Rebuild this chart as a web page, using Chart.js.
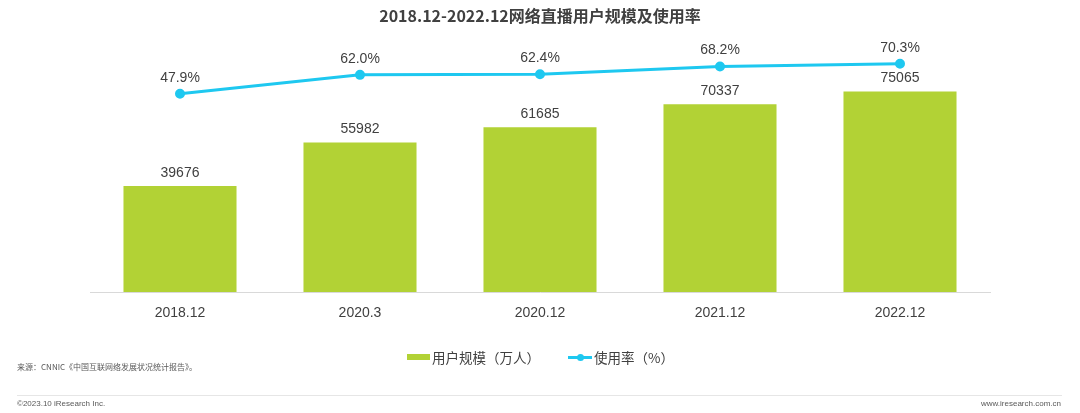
<!DOCTYPE html>
<html>
<head>
<meta charset="utf-8">
<script src="https://cdn.jsdelivr.net/npm/chart.js@4.4.0/dist/chart.umd.min.js"></script>
<style>
  html, body { margin: 0; padding: 0; background: #fff; }
  body { width: 1080px; height: 413px; position: relative; overflow: hidden;
         font-family: "Noto Sans CJK SC", "Liberation Sans", Arial, sans-serif; }
  #wrap { position: absolute; left: 0; top: 0; width: 1080px; height: 413px; }
  .title { position: absolute; top: 3px; left: 0; width: 1080px; text-align: center;
           font-size: 16px; font-weight: bold; color: #404040; }
  .legend { position: absolute; top: 347px; left: 407px; height: 20px; display: flex;
            align-items: center; font-size: 13.5px; color: #404040; }
  .legend .box { width: 23px; height: 6px; background: #b2d235; margin-right: 2px; }
  .legend .ln { position: relative; width: 24px; height: 3px; background: #1ec8f0;
                margin-left: 28px; margin-right: 2px; }
  .legend .ln::after { content: ""; position: absolute; left: 9px; top: -2px; width: 7px;
                       height: 7px; border-radius: 50%; background: #1ec8f0; }
  .src { position: absolute; left: 17px; top: 361px; font-size: 8px; color: #595959; }
  .sep { position: absolute; left: 17px; top: 395px; width: 1045px; height: 1px; background: #e6e6e6; }
  .copy { position: absolute; left: 17px; top: 399px; font-size: 8px; color: #595959;
          font-family: "Liberation Sans", Arial, sans-serif; }
  .www { position: absolute; right: 19px; top: 399px; font-size: 8px; color: #595959;
         font-family: "Liberation Sans", Arial, sans-serif; }
</style>
</head>
<body>
<div id="wrap"><canvas id="chart"></canvas></div>
<div class="title">2018.12-2022.12网络直播用户规模及使用率</div>
<div class="legend">
  <span class="box"></span><span>用户规模（万人）</span>
  <span class="ln"></span><span>使用率（%）</span>
</div>
<div class="src">来源：CNNIC《中国互联网络发展状况统计报告》。</div>
<div class="sep"></div>
<div class="copy">©2023.10 iResearch Inc.</div>
<div class="www">www.iresearch.com.cn</div>
<script>
// 数据
const periods = ['2018.12', '2020.3', '2020.12', '2021.12', '2022.12'];
const users = [39676, 55982, 61685, 70337, 75065];   // 用户规模（万人）
const usageRate = [47.9, 62.0, 62.4, 68.2, 70.3];    // 使用率（%）

// 数值标签
const valueLabels = {
    id: 'valueLabels',
    afterDatasetsDraw(chart) {
        const ctx = chart.ctx;
        ctx.save();
        ctx.font = '14px "Liberation Sans", Arial, sans-serif';
        ctx.fillStyle = '#404040';
        ctx.textAlign = 'center';
        ctx.textBaseline = 'middle';
        chart.getDatasetMeta(0).data.forEach((bar, i) => {
            ctx.fillText(String(users[i]), bar.x, bar.y - 13);
        });
        chart.getDatasetMeta(1).data.forEach((pt, i) => {
            ctx.fillText(usageRate[i].toFixed(1) + '%', pt.x, pt.y - 16);
        });
        ctx.restore();
    }
};

new Chart(document.getElementById('chart'), {
    data: {
        labels: periods,
        datasets: [
            { type: 'bar', label: '用户规模（万人）', data: users, backgroundColor: '#b2d235',
              yAxisID: 'y', barPercentage: 0.628, categoryPercentage: 1, order: 2 },
            { type: 'line', label: '使用率（%）', data: usageRate, borderColor: '#1ec8f0',
              backgroundColor: '#1ec8f0', borderWidth: 3, pointRadius: 3.5, pointHoverRadius: 3.5,
              yAxisID: 'y2', tension: 0, order: 1 }
        ]
    },
    options: {
        responsive: true,
        maintainAspectRatio: false,
        animation: false,
        layout: { padding: { left: 90, right: 90, top: 40, bottom: 0 } },
        scales: {
            x: {
                grid: { display: false },
                border: { display: true, color: '#d9d9d9', width: 1 },
                ticks: { color: '#404040', padding: 5, font: { size: 14, family: '"Liberation Sans", Arial, sans-serif' } },
                afterFit: s => { s.height = 121; }
            },
            y: { display: false, min: 0, max: 94400 },
            y2: { display: false, min: -100, max: 88 }
        },
        plugins: {
            legend: { display: false },
            tooltip: { enabled: false }
        }
    },
    plugins: [valueLabels]
});
</script>
</body>
</html>
